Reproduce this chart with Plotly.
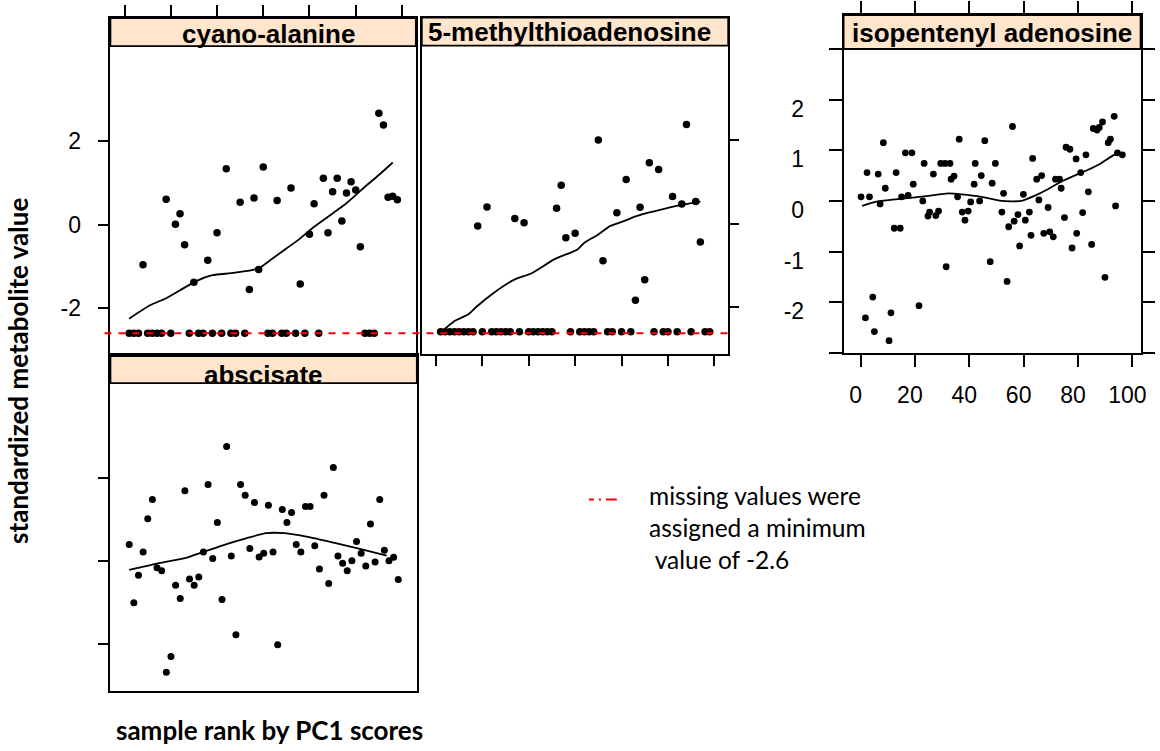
import plotly.graph_objects as go

W, H = 1160, 751

# ---------------------------------------------------------------- data
# lattice page: sample rank by PC1 score (x) vs standardized value (y)
CYANO_X = [8, 18, 22, 24, 26, 30, 36, 40, 44, 50, 54, 56, 58, 60, 66, 72, 76,
           80, 82, 86, 88, 90, 92, 94, 96, 98, 100, 102, 110, 112, 114, 116, 118]
CYANO_Y = [-0.96, 0.61, 0.01, 0.26, -0.48, -1.38, -0.85, -0.19, 1.34, 0.54,
           -1.55, 0.64, -1.07, 1.38, 0.58, 0.88, -1.42, -0.23, 0.50, 1.11,
           -0.19, 0.79, 1.11, 0.09, 0.76, 1.03, 0.83, -0.53, 2.67, 2.39,
           0.66, 0.68, 0.60]
CYANO_MISSING_X = [2, 4, 6, 10, 12, 14, 16, 20, 28, 32, 34, 38, 42, 46, 48,
                   52, 62, 64, 68, 70, 74, 78, 84, 104, 106, 108]
CYANO_FIT_X = [2, 11, 18, 24, 31, 38, 46, 55, 59, 64, 70, 75, 82, 90, 95,
               100, 104, 110, 116]
CYANO_FIT_Y = [-2.25, -1.93, -1.76, -1.57, -1.35, -1.21, -1.16, -1.09, -1.01,
               -0.81, -0.57, -0.37, -0.05, 0.27, 0.47, 0.71, 0.91, 1.19, 1.49]

MTA_X = [18, 22, 34, 38, 52, 54, 56, 60, 70, 72, 78, 82, 86, 88, 90, 92, 96,
         102, 106, 108, 112, 114]
MTA_Y = [-0.06, 0.40, 0.12, 0.02, 0.37, 0.92, -0.34, -0.23, 2.01, -0.89,
         0.26, 1.06, -1.84, 0.39, -1.35, 1.46, 1.30, 0.65, 0.47, 2.38,
         0.53, -0.44]
MTA_MISSING_X = [2, 4, 6, 8, 10, 12, 14, 16, 20, 24, 26, 28, 30, 32, 36, 40,
                 42, 44, 46, 48, 50, 58, 62, 64, 66, 68, 74, 76, 80, 84, 94,
                 98, 100, 104, 110, 116, 118]
MTA_FIT_X = [2, 8, 14, 17, 25, 34, 41, 51, 61, 64, 70, 75, 81, 87, 92, 98,
             107, 114]
MTA_FIT_Y = [-2.62, -2.34, -2.18, -2.02, -1.66, -1.34, -1.20, -0.86, -0.62,
             -0.46, -0.26, -0.06, 0.06, 0.19, 0.27, 0.35, 0.46, 0.53]

ABSC_X = [2, 4, 6, 8, 10, 12, 14, 16, 18, 20, 22, 24, 26, 28, 30, 32, 34, 36,
          38, 40, 42, 44, 46, 48, 50, 52, 54, 56, 58, 60, 62, 64, 66, 68, 70,
          72, 74, 76, 78, 80, 82, 84, 86, 88, 90, 92, 94, 96, 98, 100, 102,
          104, 106, 108, 110, 112, 114, 116, 118]
ABSC_Y = [0.40, -1.00, -0.34, 0.22, 1.02, 1.48, -0.16, -0.23, -2.67, -2.29,
          -0.58, -0.90, 1.69, -0.43, -0.58, -0.38, 0.22, 1.84, 0.06, 0.93,
          -0.92, 2.75, 0.12, -1.77, 1.84, 1.58, 0.30, 1.41, 0.10, 0.19,
          1.34, 0.22, -2.01, 1.24, 0.93, 1.17, 0.40, 0.22, 1.31, 1.31,
          0.37, -0.19, 1.58, -0.54, 2.25, 0.12, -0.05, -0.23, 0.01, 0.47,
          0.19, -0.12, 0.89, -0.02, 1.48, 0.26, 0.01, 0.09, -0.44]
ABSC_FIT_X = [2, 14, 26, 34, 44, 52, 61, 69, 79, 91, 101, 113]
ABSC_FIT_Y = [-0.21, -0.06, 0.07, 0.22, 0.41, 0.54, 0.67, 0.67, 0.58, 0.43,
              0.30, 0.13]

# stand-alone panel, ranks 1..100
IPA_X = [0.2, 1.8, 2.4, 3.3, 4.5, 5.1, 6.5, 7.2, 8.4, 9.1, 10.5, 11.2, 13.1,
         12.4, 14.6, 15.1, 16.5, 17.5, 18.9, 19.4, 21.5, 22.9, 23.4, 24.8,
         25.4, 26.8, 27.7, 28.7, 29.5, 31.1, 31.5, 32.9, 33.3, 34.4, 35.7,
         36.3, 37.4, 38.4, 39.6, 40.5, 41.8, 42.2, 43.8, 44.4, 45.7, 47.7,
         48.4, 49.6, 52.0, 52.6, 53.9, 54.5, 55.9, 56.5, 57.9, 58.5, 59.9,
         60.6, 62.1, 62.7, 63.3, 64.8, 65.6, 66.6, 67.4, 69.0, 69.6, 70.9,
         71.7, 73.2, 73.8, 75.0, 75.6, 77.0, 77.8, 79.3, 79.5, 81.0, 81.7,
         82.9, 83.8, 85.0, 85.6, 87.0, 87.8, 89.0, 89.9, 91.1, 91.9, 93.3,
         93.8, 94.5, 96.3]
IPA_Y = [0.08, -2.31, 0.56, 0.08, -1.90, -2.58, 0.53, -0.06, 1.15, 0.25,
         -2.76, -2.21, 0.56, -0.54, -0.54, 0.08, 0.95, 0.11, 0.95, 0.33,
         -2.07, 0.00, 0.74, -0.30, -0.22, 0.53, -0.29, -0.20, 0.74, 0.74,
         -1.30, 0.74, 0.43, 0.49, 0.08, 1.22, -0.22, -0.38, -0.20, -0.02,
         0.33, 0.74, 0.00, 0.50, 1.19, -1.20, 0.35, 0.74, -0.22, 0.15,
         -1.59, -0.51, 1.47, -0.40, -0.27, -0.89, 0.13, -0.38, -0.22, -0.68,
         0.84, 0.43, 0.02, 0.50, -0.64, -0.13, -0.61, -0.71, 0.43, 0.43,
         0.25, -0.33, 1.06, 1.02, -0.93, 0.83, -0.64, 0.56, -0.23, 0.91,
         0.18, -0.86, 1.43, 1.40, 1.45, 1.56, -1.51, 1.15, 1.22, 1.67,
         -0.10, 0.95, 0.91]
IPA_FIT_X = [0.6, 5.5, 12.8, 20.1, 25.0, 32.3, 37.2, 44.5, 51.8, 59.2, 64.0,
             68.9, 73.8, 78.7, 83.5, 88.4, 93.3, 95.8]
IPA_FIT_Y = [-0.10, -0.02, 0.03, 0.07, 0.10, 0.15, 0.13, 0.08, 0.00, 0.00,
             0.10, 0.23, 0.38, 0.50, 0.61, 0.74, 0.91, 0.94]

MISSING_VALUE = -2.6

LATTICE_TICKS_X = [0, 20, 40, 60, 80, 100, 120]
LATTICE_TICKS_Y = [-2, 0, 2]
LATTICE_TICK_TEXT = ["-2", "0", "2"]
IPA_TICKS_X = [0, 20, 40, 60, 80, 100]
IPA_TICKS_Y = [-3, -2, -1, 0, 1, 2, 3]
IPA_TICK_TEXT = ["", "-2", "-1", "0", "1", "2", ""]

# ---------------------------------------------------------------- layout
LW = 1.8
STRIP_FILL = "#ffe5cc"
ARIAL = "Arial, Liberation Sans, sans-serif"
TITLE_FONT = "Lato, Open Sans, sans-serif"


def fx(px):
    return px / W


def fy(py):
    return 1 - py / H


# lattice page: y range covers panel plus strip; strip starts at LAT_STRIP
LAT_XR = [-6.1, 126.0]
LAT_YR = [-3.12, 4.95]
LAT_STRIP = 4.275
IPA_XR = [-6.22, 103.0]
IPA_YR = [-3.003, 3.672]
IPA_STRIP = 3.0

# axis suffix -> (x px span, y px span incl. strip)
panels = {
    "": ((111, 418), (18, 355)),        # cyano-alanine
    "2": ((424, 732), (17.5, 353.5)),   # 5-methylthioadenosine
    "3": ((111, 419), (355, 691)),      # abscisate
    "4": ((848, 1146.5), (15, 352.95)), # isopentenyl adenosine
}

fig = go.Figure()


def add_points(sfx, xs, ys, size):
    fig.add_trace(go.Scatter(
        x=xs, y=ys, mode="markers", xaxis="x" + sfx, yaxis="y" + sfx,
        marker=dict(color="black", size=size, line=dict(width=0)),
        showlegend=False, hoverinfo="skip"))


def add_fit(sfx, xs, ys):
    fig.add_trace(go.Scatter(
        x=xs, y=ys, mode="lines", xaxis="x" + sfx, yaxis="y" + sfx,
        line=dict(color="black", width=1.8, shape="spline", smoothing=0.6),
        showlegend=False, hoverinfo="skip"))


add_points("", CYANO_X, CYANO_Y, 7.5)
add_points("", CYANO_MISSING_X, [MISSING_VALUE] * len(CYANO_MISSING_X), 7.5)
add_fit("", CYANO_FIT_X, CYANO_FIT_Y)

add_points("2", MTA_X, MTA_Y, 7.5)
add_points("2", MTA_MISSING_X, [MISSING_VALUE] * len(MTA_MISSING_X), 7.5)
add_fit("2", MTA_FIT_X, MTA_FIT_Y)

add_points("3", ABSC_X, ABSC_Y, 7)
add_fit("3", ABSC_FIT_X, ABSC_FIT_Y)

add_points("4", IPA_X, IPA_Y, 6.8)
add_fit("4", IPA_FIT_X, IPA_FIT_Y)

base = dict(showgrid=False, zeroline=False, showline=True, linecolor="black",
            linewidth=LW, mirror=True, tickcolor="black", tickwidth=LW,
            fixedrange=True, tickfont=dict(family=ARIAL, size=23, color="black"))


def axes(sfx):
    (x0, x1), (y0, y1) = panels[sfx]
    return dict(domain=[fx(x0), fx(x1)]), dict(domain=[fy(y1), fy(y0)])


layout = {}
# cyano-alanine: ticks left (labelled) and above the strip
xd, yd = axes("")
layout["xaxis"] = dict(base, **xd, range=LAT_XR, side="top", ticks="outside",
                       ticklen=11, tickvals=LATTICE_TICKS_X, showticklabels=False,
                       anchor="y")
layout["yaxis"] = dict(base, **yd, range=LAT_YR, ticks="outside", ticklen=11,
                       tickvals=LATTICE_TICKS_Y, ticktext=LATTICE_TICK_TEXT,
                       ticklabelstandoff=12, anchor="x")
# 5-methylthioadenosine: ticks below and right, unlabelled
xd, yd = axes("2")
layout["xaxis2"] = dict(base, **xd, range=LAT_XR, ticks="outside", ticklen=11,
                        tickvals=LATTICE_TICKS_X, showticklabels=False, anchor="y2")
layout["yaxis2"] = dict(base, **yd, range=LAT_YR, side="right", ticks="outside",
                        ticklen=9, tickvals=LATTICE_TICKS_Y, showticklabels=False,
                        anchor="x2")
# abscisate: unlabelled ticks on the left only
xd, yd = axes("3")
layout["xaxis3"] = dict(base, **xd, range=LAT_XR, ticks="", showticklabels=False,
                        anchor="y3")
layout["yaxis3"] = dict(base, **yd, range=LAT_YR, ticks="outside", ticklen=11,
                        tickvals=LATTICE_TICKS_Y, showticklabels=False, anchor="x3")
# isopentenyl adenosine: full box of ticks
xd, yd = axes("4")
layout["xaxis4"] = dict(base, **xd, range=IPA_XR, mirror="ticks", ticks="outside",
                        ticklen=12, tickvals=IPA_TICKS_X, ticklabelshift=-5,
                        ticklabelstandoff=9, anchor="y4")
layout["yaxis4"] = dict(base, **yd, range=IPA_YR, mirror="ticks", ticks="outside",
                        ticklen=13, tickvals=IPA_TICKS_Y, ticktext=IPA_TICK_TEXT,
                        ticklabelshift=9, ticklabelstandoff=20, anchor="x4")

shapes = []
for sfx, top, strip in [("", LAT_YR[1], LAT_STRIP), ("2", LAT_YR[1], LAT_STRIP),
                        ("3", LAT_YR[1], LAT_STRIP), ("4", IPA_YR[1], IPA_STRIP)]:
    shapes.append(dict(type="rect", xref=f"x{sfx} domain", yref=f"y{sfx}",
                       x0=0, x1=1, y0=strip, y1=top, fillcolor=STRIP_FILL,
                       line=dict(color="black", width=LW), layer="below"))

# reference line for missing values, spanning the top row of the lattice
shapes.append(dict(type="line", xref="paper", yref="y", x0=fx(105), x1=fx(735),
                   y0=MISSING_VALUE, y1=MISSING_VALUE,
                   line=dict(color="red", width=2, dash="7px,7px")))
# key for the reference line
shapes.append(dict(type="line", xref="paper", yref="paper", x0=fx(592), x1=fx(620),
                   y0=fy(499.5), y1=fy(499.5),
                   line=dict(color="red", width=2, dash="5px,5px,2px,5px,11px,10px")))

strip_font = dict(family=ARIAL, size=26, color="black", weight="bold")
annotations = [
    dict(text="cyano-alanine", x=fx(270), y=fy(33.7)),
    dict(text="5-methylthioadenosine", x=fx(572.5), y=fy(31.7)),
    dict(text="abscisate", x=fx(265), y=fy(375)),
    dict(text="isopentenyl adenosine", x=fx(997), y=fy(32.7)),
]
for a in annotations:
    a.update(xref="paper", yref="paper", xanchor="center", yanchor="middle",
             showarrow=False, font=strip_font)

annotations += [
    dict(text="standardized metabolite value", x=fx(18), y=fy(371),
         textangle=-90, xref="paper", yref="paper", xanchor="center",
         yanchor="middle", showarrow=False,
         font=dict(family=TITLE_FONT, size=26, color="black", weight="bold")),
    dict(text="sample rank by PC1 scores", x=fx(271), y=fy(730),
         xref="paper", yref="paper", xanchor="center", yanchor="middle",
         showarrow=False,
         font=dict(family=TITLE_FONT, size=26, color="black", weight="bold")),
    dict(text="missing values were<br>assigned a minimum<br>\u00a0value of -2.6",
         x=fx(650), y=fy(527), xref="paper", yref="paper", xanchor="left",
         yanchor="middle", align="left", showarrow=False,
         font=dict(family=TITLE_FONT, size=24.5, color="black")),
]

fig.update_layout(
    **layout,
    shapes=shapes,
    annotations=annotations,
    width=W, height=H, autosize=False,
    margin=dict(l=0, r=0, t=0, b=0),
    paper_bgcolor="white", plot_bgcolor="white",
    showlegend=False,
)

fig.write_html("out.html")
